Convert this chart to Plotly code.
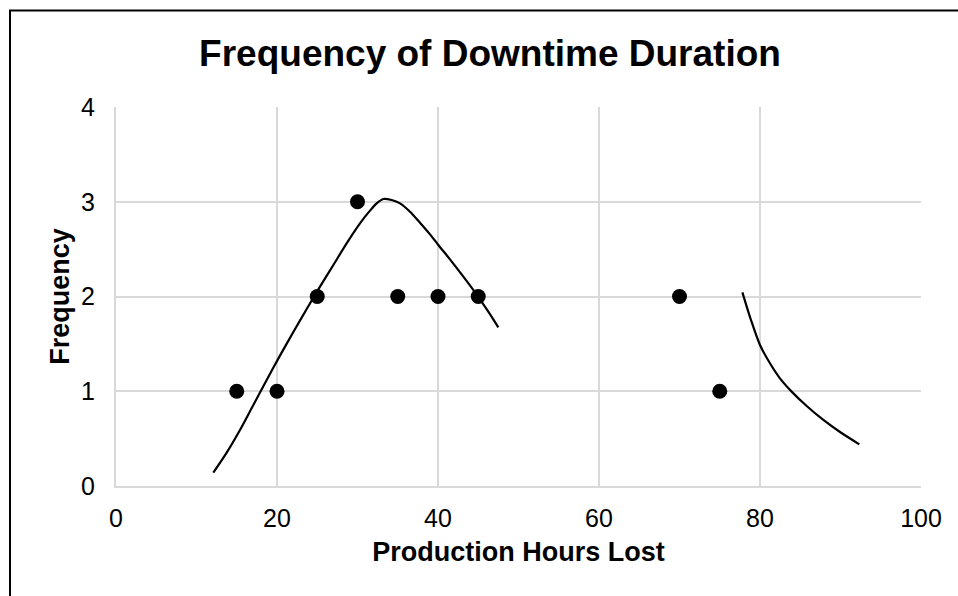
import plotly.graph_objects as go

# Observed data
hours = [15, 20, 25, 30, 35, 40, 45, 70, 75]
freq = [1, 1, 2, 3, 2, 2, 2, 2, 1]

# Fitted curve, segment 1
curve1_x = [12.09, 13.75, 15.40, 17.06, 18.72, 20.37, 22.03, 23.69, 25.34, 27.00, 28.65, 30.31,
            31.55, 32.38, 33.21, 34.24, 35.28, 36.52, 37.76, 39.01, 40.04, 41.49, 43.15, 44.93,
            46.25, 47.49]
curve1_y = [0.141, 0.352, 0.591, 0.855, 1.119, 1.376, 1.625, 1.868, 2.104, 2.332, 2.561, 2.772,
            2.906, 2.983, 3.029, 3.018, 2.983, 2.895, 2.779, 2.656, 2.544, 2.392, 2.209, 2.005,
            1.840, 1.675]

# Fitted curve, segment 2
curve2_x = [77.81, 78.88, 80.0, 81.24, 82.48, 83.93, 85.80, 87.87, 89.94, 92.34]
curve2_y = [2.044, 1.752, 1.488, 1.295, 1.136, 0.996, 0.844, 0.697, 0.570, 0.440]

x_ticks = [0, 20, 40, 60, 80, 100]
y_ticks = [0, 1, 2, 3, 4]

FONT = "Liberation Sans, Arial, sans-serif"

fig = go.Figure()
for cx, cy in ((curve1_x, curve1_y), (curve2_x, curve2_y)):
    fig.add_trace(go.Scatter(x=cx, y=cy, mode="lines",
                             line=dict(color="black", width=2.2, shape="spline", smoothing=0.8),
                             showlegend=False, hoverinfo="skip"))
fig.add_trace(go.Scatter(x=hours, y=freq, mode="markers", marker=dict(color="black", size=15), showlegend=False))

L, R, T, B = 116, 37, 107, 110
W, H = 958, 596
pw, ph = W - L - R, H - T - B

fig.update_layout(
    width=W, height=H,
    margin=dict(l=L, r=R, t=T, b=B, pad=0),
    paper_bgcolor="white", plot_bgcolor="white",
    font=dict(family=FONT, color="black"),
    title=dict(text="<b>Frequency of Downtime Duration</b>", font=dict(size=37, family=FONT, color="black"),
               x=(490 - L) / pw, xref="paper", xanchor="center",
               y=1 - 53 / H, yref="container", yanchor="middle"),
    xaxis=dict(range=[0, 100], tickvals=x_ticks, showgrid=True, gridcolor="#d9d9d9", gridwidth=2,
               showline=True, linecolor="#d9d9d9", linewidth=2, zeroline=False, ticks="",
               tickfont=dict(size=25, family=FONT, color="black"), ticklabelstandoff=9,
               title=dict(text="<b>Production Hours Lost</b>", font=dict(size=27, family=FONT, color="black"), standoff=11)),
    yaxis=dict(range=[0, 4], tickvals=y_ticks, showgrid=True, gridcolor="#d9d9d9", gridwidth=2,
               showline=True, linecolor="#d9d9d9", linewidth=2, zeroline=False, ticks="",
               tickfont=dict(size=25, family=FONT, color="black"), ticklabelstandoff=14,
               title=dict(text="<b>Frequency</b>", font=dict(size=27, family=FONT, color="black"), standoff=4)),
    shapes=[dict(type="rect", xref="paper", yref="paper",
                 x0=(10 - L) / pw, x1=1.2, y0=-0.5, y1=(H - B - 10.5) / ph,
                 line=dict(color="black", width=2), fillcolor="rgba(0,0,0,0)", layer="below")],
)

fig.write_html("out.html")
